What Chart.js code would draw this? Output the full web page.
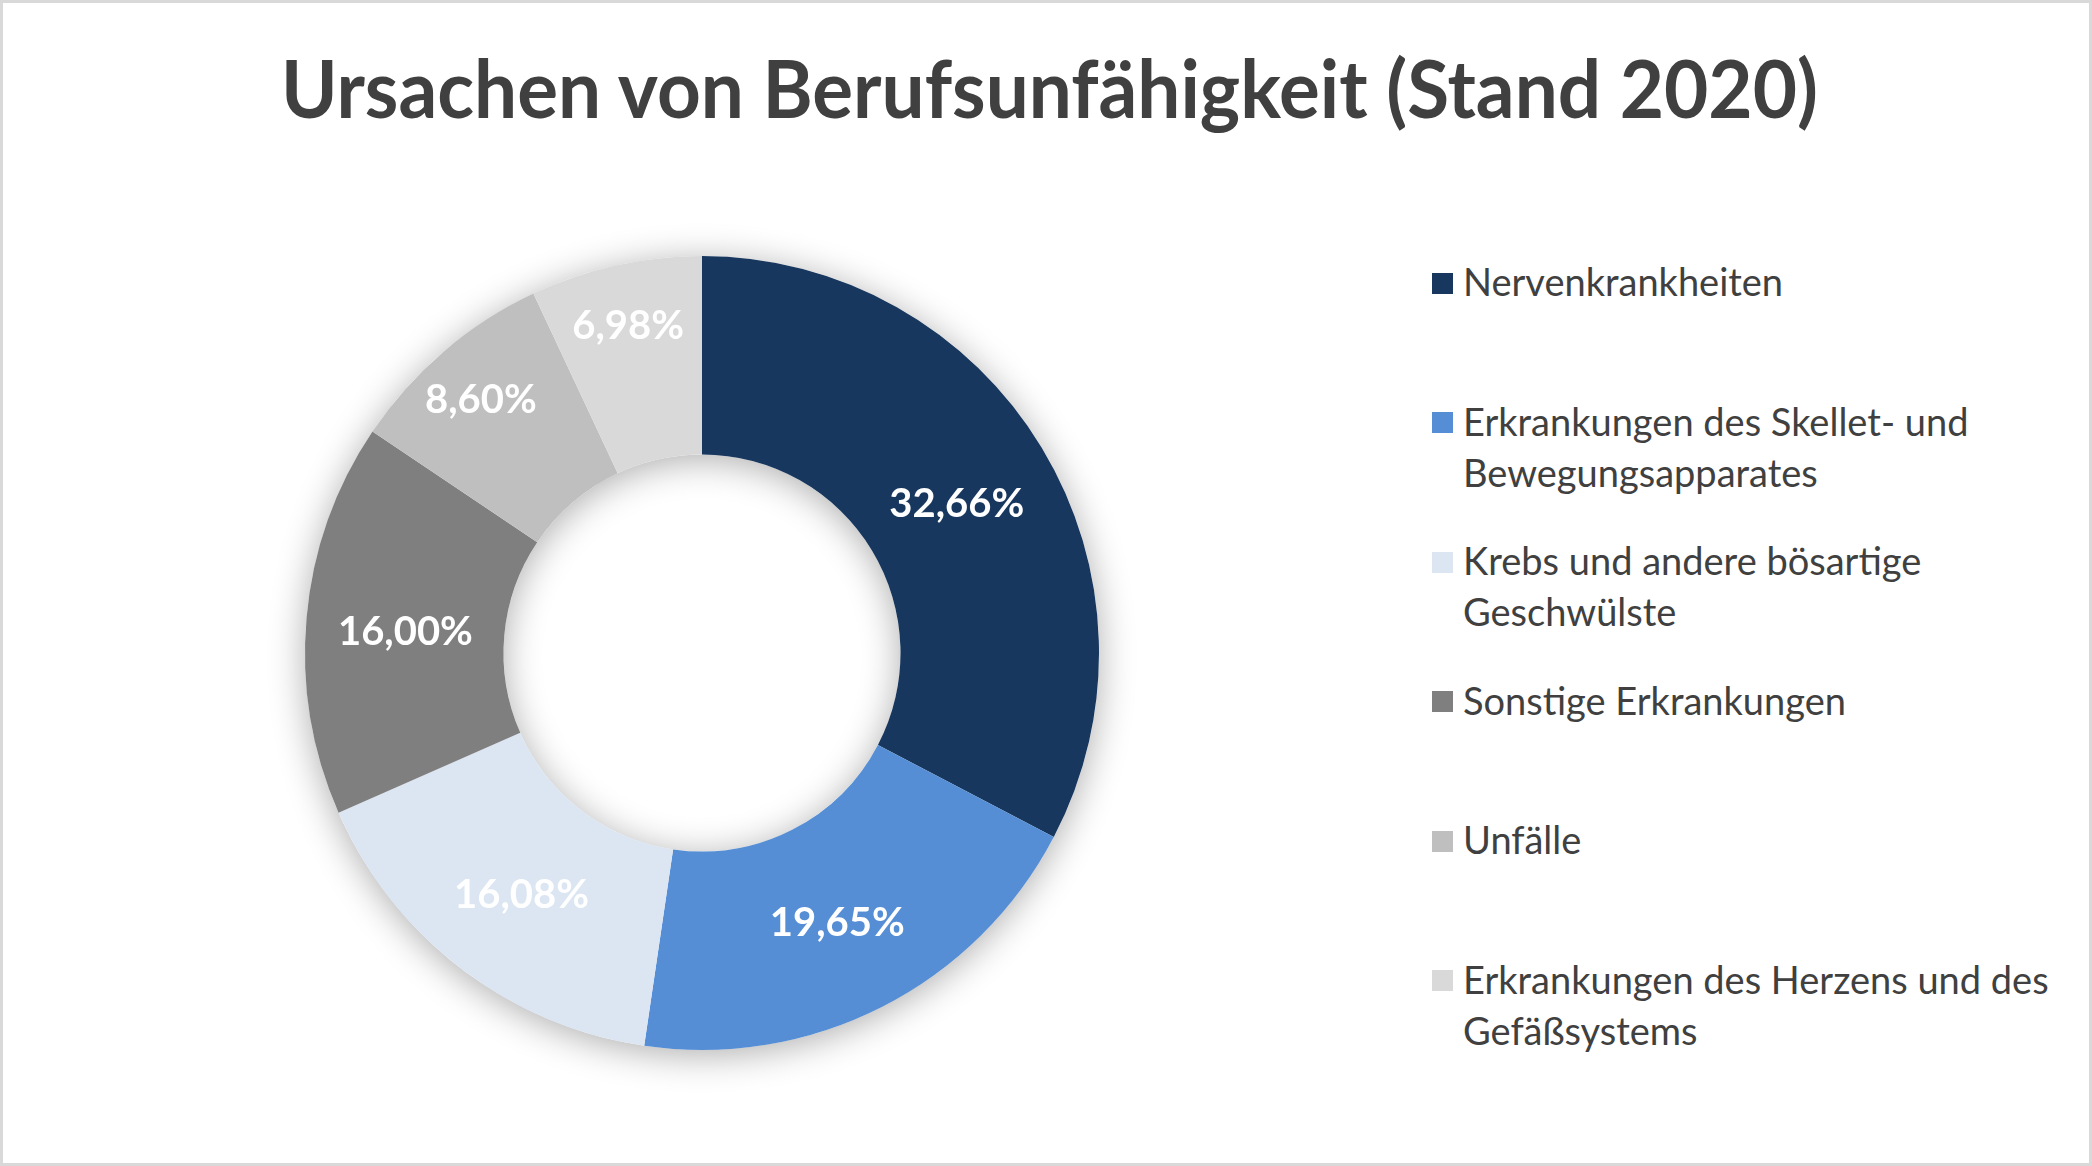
<!DOCTYPE html>
<html lang="de">
<head>
  <meta charset="UTF-8">
  <title>Ursachen von Berufsunfähigkeit</title>
  <script src="https://cdn.jsdelivr.net/npm/chart.js"></script>
  <style>
    html, body {
      margin: 0;
      padding: 0;
      background: #fff;
    }
    #frame {
      position: relative;
      width: 2092px;
      height: 1166px;
      box-sizing: border-box;
      border: 3px solid #d9d9d9;
      overflow: hidden;
      font-family: Lato, "Open Sans", sans-serif;
      color: #404040;
    }
    #title {
      position: absolute;
      left: 0;
      width: 2092px;
      top: 44px;
      text-align: center;
      font-size: 80px;
      line-height: 80px;
      font-weight: bold;
      white-space: nowrap;
    }
    #title span {
      display: inline-block;
      transform-origin: center;
    }
    #chartBox {
      position: absolute;
      left: 259px;
      top: 210px;
      width: 880px;
      height: 880px;
    }
    .legend-item {
      position: absolute;
      left: 1429px;
    }
    .legend-box {
      position: absolute;
      left: 0;
      width: 21px;
      height: 21px;
    }
    .legend-text {
      position: absolute;
      left: 31px;
      font-size: 38px;
      line-height: 51px;
      white-space: nowrap;
    }
  </style>
</head>
<body>
  <div id="frame">
    <div id="title"><span>Ursachen von Berufsunfähigkeit (Stand 2020)</span></div>
    <div id="chartBox"><canvas id="donut"></canvas></div>
    <div id="legend"></div>
  </div>

  <script>
    // data
    var categories = [
      'Nervenkrankheiten',
      ['Erkrankungen des Skellet- und', 'Bewegungsapparates'],
      ['Krebs und andere bösartige', 'Geschwülste'],
      'Sonstige Erkrankungen',
      'Unfälle',
      ['Erkrankungen des Herzens und des', 'Gefäßsystems']
    ];
    var shares = [32.66, 19.65, 16.08, 16.00, 8.60, 6.98];
    var colors = ['#17375e', '#558ed5', '#dce6f2', '#7f7f7f', '#bfbfbf', '#d9d9d9'];

    function pct(v) {
      return v.toFixed(2).replace('.', ',') + '%';
    }

    // soft shadow behind the ring (outside and into the hole)
    var ringShadow = {
      id: 'ringShadow',
      beforeDatasetsDraw: function(chart) {
        var arc = chart.getDatasetMeta(0).data[0];
        if (!arc) return;
        var ctx = chart.ctx;
        ctx.save();
        ctx.shadowColor = 'rgba(0, 0, 0, 0.32)';
        ctx.shadowBlur = 36;
        ctx.shadowOffsetX = 0;
        ctx.shadowOffsetY = 5;
        ctx.fillStyle = '#ffffff';
        ctx.beginPath();
        ctx.arc(arc.x, arc.y, arc.outerRadius, 0, Math.PI * 2);
        ctx.arc(arc.x, arc.y, arc.innerRadius, 0, Math.PI * 2, true);
        ctx.fill('evenodd');
        ctx.restore();
      }
    };

    // percentage labels on the slices
    var sliceLabels = {
      id: 'sliceLabels',
      afterDatasetsDraw: function(chart) {
        var ctx = chart.ctx;
        var meta = chart.getDatasetMeta(0);
        var data = chart.data.datasets[0].data;
        ctx.save();
        ctx.font = 'bold 40px Lato, "Open Sans", sans-serif';
        ctx.fillStyle = '#ffffff';
        ctx.textAlign = 'center';
        ctx.textBaseline = 'middle';
        meta.data.forEach(function(arc, i) {
          var mid = (arc.startAngle + arc.endAngle) / 2;
          var r = (arc.innerRadius + arc.outerRadius) / 2;
          if (data[i] < 10) r += 42; // small slices: label sits further out
          ctx.fillText(pct(data[i]), arc.x + Math.cos(mid) * r, arc.y + Math.sin(mid) * r + 5);
        });
        ctx.restore();
      }
    };

    new Chart(document.getElementById('donut'), {
      type: 'doughnut',
      data: {
        labels: categories,
        datasets: [{
          data: shares,
          backgroundColor: colors,
          borderWidth: 0
        }]
      },
      options: {
        responsive: true,
        maintainAspectRatio: false,
        animation: false,
        cutout: '50%',
        layout: { padding: 43 },
        plugins: {
          legend: { display: false },
          tooltip: { enabled: false }
        }
      },
      plugins: [ringShadow, sliceLabels]
    });

    // legend on the right, one item per category
    var legend = document.getElementById('legend');
    categories.forEach(function(cat, i) {
      var c = 280 + i * 139.5;
      var item = document.createElement('div');
      item.className = 'legend-item';
      item.style.top = '0px';
      var box = document.createElement('div');
      box.className = 'legend-box';
      box.style.background = colors[i];
      box.style.top = (c - 10.5) + 'px';
      var txt = document.createElement('div');
      txt.className = 'legend-text';
      txt.style.top = (c - 26.6) + 'px';
      txt.innerHTML = [].concat(cat).join('<br>');
      item.appendChild(box);
      item.appendChild(txt);
      legend.appendChild(item);
    });

    // squeeze title to the width it has in the picture
    function fitTitle() {
      var span = document.querySelector('#title span');
      span.style.transform = 'none';
      span.style.transform = 'scaleX(' + (1537 / span.offsetWidth) + ')';
    }
    fitTitle();
    if (document.fonts && document.fonts.ready) document.fonts.ready.then(fitTitle);
  </script>
</body>
</html>
